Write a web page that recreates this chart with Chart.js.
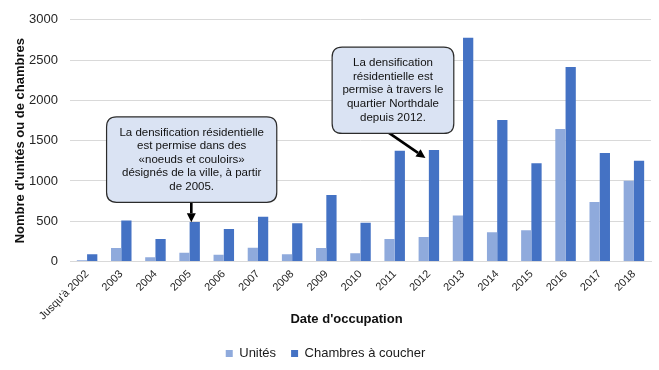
<!DOCTYPE html>
<html>
<head>
<meta charset="utf-8">
<script src="https://cdn.jsdelivr.net/npm/chart.js@4/dist/chart.umd.min.js"></script>
<style>
  html, body { margin: 0; padding: 0; background: #ffffff; }
  #wrap { width: 659px; height: 370px; }
</style>
</head>
<body>
<div id="wrap"><canvas id="c" width="659" height="370"></canvas></div>
<script>
// ---- Data ----
const categories = ["Jusqu'à 2002", "2003", "2004", "2005", "2006", "2007", "2008", "2009", "2010",
                    "2011", "2012", "2013", "2014", "2015", "2016", "2017", "2018"];
const unites   = [15, 167, 52, 108, 84, 171, 91, 167, 103, 279, 303, 570, 363, 387, 1644, 738, 1001];
const chambres = [90, 510, 279, 490, 402, 554, 474, 826, 482, 1376, 1384, 2777, 1755, 1221, 2414, 1348, 1252];
const yTicks   = [0, 500, 1000, 1500, 2000, 2500, 3000];
const seriesNames = ["Unités", "Chambres à coucher"];
const yTitle = "Nombre d'unités ou de chambres";
const xTitle = "Date d'occupation";
const note1Lines = ["La densification résidentielle", "est permise dans des", "«noeuds et couloirs»", "désignés de la ville, à partir", "de 2005."];
const note2Lines = ["La densification", "résidentielle est", "permise à travers le", "quartier Northdale", "depuis 2012."];

// Callout placement, in scale units (category index, value)
const callouts = [
  { lines: note1Lines, box: { x0: 0.57, x1: 5.55, yTop: 1795, yBot: 735 },
    arrow: { fromX: 3.05, fromY: 735, toX: 3.05, toY: 487 } },
  { lines: note2Lines, box: { x0: 7.17, x1: 10.73, yTop: 2660, yBot: 1590 },
    arrow: { fromX: 8.82, fromY: 1600, toX: 9.9, toY: 1285 } }
];

const FONT = "'Liberation Sans', Arial, sans-serif";

function roundRect(ctx, x, y, w, h, r) {
  ctx.beginPath();
  ctx.moveTo(x + r, y);
  ctx.lineTo(x + w - r, y);
  ctx.quadraticCurveTo(x + w, y, x + w, y + r);
  ctx.lineTo(x + w, y + h - r);
  ctx.quadraticCurveTo(x + w, y + h, x + w - r, y + h);
  ctx.lineTo(x + r, y + h);
  ctx.quadraticCurveTo(x, y + h, x, y + h - r);
  ctx.lineTo(x, y + r);
  ctx.quadraticCurveTo(x, y, x + r, y);
  ctx.closePath();
}

const calloutPlugin = {
  id: 'callouts',
  afterDatasetsDraw(chart) {
    const ctx = chart.ctx;
    const xs = chart.scales.x, ys = chart.scales.y;
    const px = v => xs.getPixelForValue(0) + v * (xs.getPixelForValue(1) - xs.getPixelForValue(0));
    ctx.save();
    callouts.forEach(c => {
      const x0 = px(c.box.x0), x1 = px(c.box.x1);
      const y0 = ys.getPixelForValue(c.box.yTop), y1 = ys.getPixelForValue(c.box.yBot);
      // arrow
      const ax0 = px(c.arrow.fromX), ay0 = ys.getPixelForValue(c.arrow.fromY);
      const ax1 = px(c.arrow.toX), ay1 = ys.getPixelForValue(c.arrow.toY);
      const ang = Math.atan2(ay1 - ay0, ax1 - ax0);
      const headLen = 9, headW = 4.5;
      const bx = ax1 - headLen * Math.cos(ang), by = ay1 - headLen * Math.sin(ang);
      ctx.strokeStyle = '#000000';
      ctx.lineWidth = 2.6;
      ctx.beginPath();
      ctx.moveTo(ax0, ay0);
      ctx.lineTo(bx, by);
      ctx.stroke();
      ctx.fillStyle = '#000000';
      ctx.beginPath();
      ctx.moveTo(ax1, ay1);
      ctx.lineTo(bx + headW * Math.sin(ang), by - headW * Math.cos(ang));
      ctx.lineTo(bx - headW * Math.sin(ang), by + headW * Math.cos(ang));
      ctx.closePath();
      ctx.fill();
      // box
      roundRect(ctx, x0, y0, x1 - x0, y1 - y0, 10);
      ctx.fillStyle = '#dae3f3';
      ctx.fill();
      ctx.lineWidth = 1.2;
      ctx.strokeStyle = '#2b2b2b';
      ctx.stroke();
      // text
      ctx.fillStyle = '#111111';
      ctx.font = "11.5px " + FONT;
      ctx.textAlign = 'center';
      ctx.textBaseline = 'middle';
      const lh = 13.6;
      const cx = (x0 + x1) / 2, cy = (y0 + y1) / 2;
      const n = c.lines.length;
      c.lines.forEach((t, i) => {
        ctx.fillText(t, cx, cy + (i - (n - 1) / 2) * lh);
      });
    });
    ctx.restore();
  }
};

const xTitlePlugin = {
  id: 'xTitle',
  afterDraw(chart) {
    const ctx = chart.ctx;
    const a = chart.chartArea;
    ctx.save();
    ctx.font = "bold 13px " + FONT;
    ctx.fillStyle = '#111111';
    ctx.textAlign = 'center';
    ctx.textBaseline = 'middle';
    ctx.fillText(xTitle, (a.left + a.right) / 2 - 14, a.bottom + 58);
    ctx.restore();
  }
};

new Chart(document.getElementById('c'), {
  type: 'bar',
  data: {
    labels: categories,
    datasets: [
      { label: seriesNames[0], data: unites, backgroundColor: '#8faadc',
        categoryPercentage: 0.6, barPercentage: 1.0 },
      { label: seriesNames[1], data: chambres, backgroundColor: '#4472c4',
        categoryPercentage: 0.6, barPercentage: 1.0 }
    ]
  },
  options: {
    responsive: false,
    animation: false,
    devicePixelRatio: 1,
    layout: { padding: { left: 0, right: 8, top: 12, bottom: 0 } },
    plugins: {
      legend: {
        position: 'bottom',
        labels: {
          boxWidth: 7, boxHeight: 7, padding: 15,
          color: '#1a1a1a',
          font: { family: FONT, size: 13 }
        }
      },
      title: { display: false },
      tooltip: { enabled: false }
    },
    scales: {
      x: {
        grid: { display: false, drawTicks: false },
        border: { display: true, color: '#d9d9d9', width: 1 },
        ticks: {
          color: '#262626', font: { family: FONT, size: 11 },
          maxRotation: 45, minRotation: 45, padding: 6, autoSkip: false
        },
        afterFit(scale) { scale.height = 70.5; }
      },
      y: {
        min: 0, max: 3000,
        afterBuildTicks(scale) { scale.ticks = yTicks.map(v => ({ value: v })); },
        grid: { color: '#d9d9d9', drawTicks: false },
        border: { display: false },
        ticks: {
          color: '#262626', font: { family: FONT, size: 13 }, padding: 12,
          callback: v => String(v)
        },
        title: {
          display: true, text: yTitle, color: '#111111',
          font: { family: FONT, size: 13, weight: 'bold' },
          padding: { top: 13, bottom: 0 }
        },
        afterFit(scale) { scale.width = 70; }
      }
    }
  },
  plugins: [calloutPlugin, xTitlePlugin]
});
</script>
</body>
</html>
